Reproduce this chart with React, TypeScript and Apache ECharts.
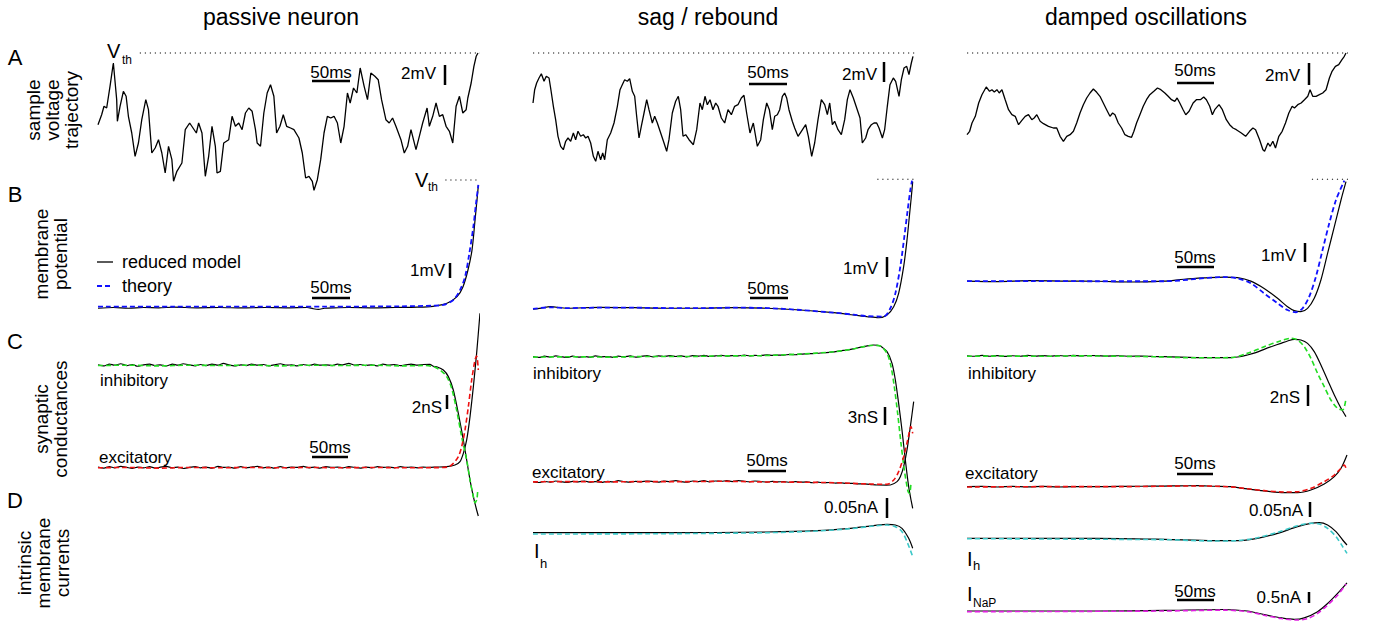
import React, { useEffect, useRef } from "react";
import * as echarts from "echarts";

// ---------------- DATA ----------------
// time in ms (0..500), voltages in mV relative to threshold, conductances in nS, currents in nA

// Row A: sample voltage trajectories
const A_passive = [[0,-7.17],[4.8,-6.17],[7.9,-5.33],[11.4,-5.5],[15.8,-3.33],[20.2,-1.0],[24.6,-4.67],[25.5,-6.83],[29.0,-5.33],[33.4,-3.83],[37.0,-4.33],[40.0,-6.33],[44.4,-8.0],[48.8,-10.33],[53.2,-9.0],[57.6,-6.67],[62.9,-4.67],[66.4,-5.67],[70.8,-10.0],[75.2,-9.5],[79.6,-8.67],[84.0,-10.0],[88.4,-12.0],[92.8,-9.33],[97.2,-10.67],[99.4,-12.83],[103.8,-11.83],[110.4,-11.0],[114.8,-7.67],[120.6,-7.0],[125.0,-7.5],[129.4,-8.0],[132.4,-7.0],[136.8,-8.0],[141.2,-12.33],[145.6,-10.33],[150.0,-7.33],[154.4,-9.33],[156.6,-12.0],[161.0,-11.83],[165.4,-9.0],[172.0,-8.67],[176.4,-6.33],[180.8,-7.33],[185.2,-7.0],[189.6,-7.67],[194.0,-6.0],[198.4,-5.5],[202.8,-5.83],[207.2,-7.67],[209.4,-9.0],[213.8,-9.33],[218.2,-6.0],[222.6,-4.0],[227.0,-3.17],[231.4,-4.33],[235.0,-8.0],[239.4,-7.33],[243.8,-6.17],[248.2,-7.33],[253.4,-7.5],[257.8,-7.67],[264.4,-8.5],[268.8,-10.0],[273.2,-12.5],[277.6,-12.33],[282.0,-12.83],[284.2,-13.73],[288.6,-12.67],[293.0,-10.67],[297.4,-8.0],[301.8,-6.33],[306.2,-6.5],[310.6,-6.33],[315.0,-7.0],[319.4,-9.0],[323.8,-7.33],[328.2,-4.0],[331.8,-5.0],[336.2,-3.5],[340.6,-4.0],[345.0,-1.5],[350.2,-3.33],[354.6,-4.67],[359.0,-2.0],[364.3,-2.33],[368.7,-2.67],[373.1,-4.67],[378.8,-6.67],[383.2,-7.0],[387.6,-6.5],[392.0,-7.33],[398.6,-8.67],[403.0,-10.0],[407.4,-9.33],[411.8,-7.67],[418.4,-9.67],[422.8,-8.33],[427.2,-7.0],[433.0,-5.5],[436.0,-7.33],[440.4,-6.33],[444.8,-5.0],[449.2,-6.33],[453.6,-6.17],[458.0,-7.33],[462.4,-7.83],[466.8,-9.0],[471.2,-5.33],[475.6,-4.33],[480.0,-6.0],[484.4,-5.67],[486.6,-4.5],[491.0,-3.0],[494.6,-1.33],[497.6,-0.33],[500,0]];

const A_sag = [[0,-5.0],[2.2,-3.67],[4.8,-3.0],[7.9,-2.5],[11.0,-2.07],[14.5,-2.83],[17.5,-2.33],[21.1,-2.5],[23.2,-3.5],[26.8,-5.33],[29.8,-6.67],[32.9,-8.33],[36.4,-9.33],[39.9,-9.67],[43.0,-8.83],[46.1,-8.5],[49.6,-8.83],[53.1,-8.0],[56.1,-8.67],[59.2,-7.83],[62.7,-8.33],[66.2,-8.17],[69.3,-8.5],[72.4,-8.33],[75.9,-9.0],[79.4,-10.33],[82.5,-10.83],[85.5,-9.83],[89.0,-10.67],[91.7,-10.0],[94.3,-10.67],[97.8,-8.67],[102.2,-8.0],[106.6,-7.0],[111.0,-5.33],[114.5,-3.67],[117.5,-3.17],[120.6,-2.67],[124.1,-2.83],[127.2,-2.57],[130.7,-3.83],[133.8,-4.33],[136.4,-6.33],[139.5,-8.5],[142.5,-7.33],[146.1,-6.0],[149.6,-4.67],[152.6,-5.67],[157.0,-7.0],[160.1,-6.33],[163.6,-7.0],[168.0,-8.0],[172.4,-9.0],[175.9,-9.83],[178.9,-8.67],[183.3,-6.0],[187.7,-4.83],[191.2,-4.33],[194.3,-5.67],[197.4,-8.33],[200.9,-8.17],[205.3,-8.67],[211.0,-9.17],[215.4,-7.67],[219.7,-5.0],[222.8,-5.67],[226.3,-4.33],[229.4,-5.17],[232.9,-4.67],[236.8,-5.67],[240.4,-5.0],[243.4,-5.33],[247.8,-6.5],[252.2,-7.0],[256.6,-5.67],[261.0,-6.17],[265.3,-5.33],[269.7,-5.17],[274.1,-4.5],[277.6,-4.23],[281.1,-6.0],[285.5,-8.0],[289.9,-7.0],[295.2,-9.33],[299.6,-8.67],[303.1,-6.67],[307.5,-5.0],[311.0,-5.67],[314.9,-7.67],[318.0,-6.33],[321.5,-6.17],[324.6,-5.67],[328.1,-4.33],[331.1,-4.0],[333.8,-4.5],[336.8,-5.67],[341.2,-6.83],[344.3,-7.5],[348.7,-8.33],[353.1,-7.83],[358.8,-7.17],[362.3,-8.33],[366.7,-10.33],[370.6,-9.0],[375.0,-6.67],[379.4,-4.67],[383.8,-5.17],[387.3,-6.17],[390.4,-5.0],[393.9,-7.17],[396.9,-6.83],[401.3,-7.67],[405.7,-8.17],[410.1,-6.67],[413.6,-4.67],[417.1,-3.67],[421.5,-4.5],[425.9,-5.5],[430.3,-6.5],[433.3,-9.0],[437.7,-8.5],[440.8,-7.67],[445.2,-7.17],[448.7,-7.0],[452.2,-7.0],[455.3,-7.5],[459.7,-8.5],[462.7,-7.67],[466.2,-5.33],[469.7,-3.17],[474.1,-2.5],[477.2,-2.83],[481.6,-4.33],[484.7,-2.67],[488.2,-1.5],[491.7,-1.33],[494.7,-2.17],[497.8,-1.0],[500,-0.33]];

const A_damped = [[0,-8.17],[3.5,-7.83],[6.6,-7.0],[11.0,-6.33],[15.4,-5.0],[19.7,-4.17],[25.4,-3.4],[29.8,-3.83],[32.9,-3.67],[36.0,-3.9],[39.5,-3.67],[42.5,-4.0],[46.1,-3.67],[50.4,-4.67],[54.8,-5.67],[59.2,-6.17],[63.6,-6.33],[68.0,-7.17],[72.4,-6.73],[76.8,-6.33],[81.1,-6.17],[85.5,-6.67],[88.6,-6.5],[92.1,-6.17],[96.5,-6.83],[100.9,-7.07],[107.5,-7.33],[114.0,-7.5],[118.4,-7.5],[122.8,-8.33],[127.2,-8.83],[131.6,-8.33],[136.0,-8.17],[140.4,-7.83],[144.7,-7.0],[149.1,-6.0],[153.5,-5.17],[157.9,-4.5],[162.3,-4.0],[166.7,-3.6],[171.1,-3.93],[175.4,-4.33],[179.8,-5.0],[184.2,-5.67],[188.6,-6.33],[192.1,-6.0],[195.2,-6.17],[199.6,-7.0],[204.0,-7.5],[208.3,-8.17],[212.7,-8.33],[217.1,-8.43],[220.2,-7.83],[223.7,-7.0],[228.1,-6.17],[232.5,-5.33],[236.8,-4.67],[241.2,-4.17],[246.5,-3.83],[251.3,-3.5],[255.7,-3.67],[261.0,-4.0],[265.4,-4.33],[269.8,-4.67],[274.1,-4.83],[277.2,-4.5],[280.7,-5.0],[285.1,-5.67],[288.6,-6.17],[293.0,-5.83],[298.3,-5.0],[302.6,-4.67],[307.9,-4.67],[312.3,-4.4],[315.8,-4.67],[320.2,-5.33],[323.7,-6.17],[326.8,-5.67],[332.5,-5.17],[336.9,-5.67],[342.1,-6.67],[346.5,-7.17],[350.9,-7.5],[355.3,-7.67],[361.9,-8.0],[367.6,-8.33],[372.8,-7.83],[377.2,-7.5],[380.7,-7.67],[386.0,-8.67],[390.4,-9.67],[392.6,-9.83],[397.0,-9.0],[400.0,-9.33],[403.5,-8.83],[407.0,-9.5],[411.4,-8.33],[415.8,-7.83],[420.2,-7.0],[424.6,-6.0],[429.0,-5.33],[432.0,-5.5],[436.4,-5.17],[440.8,-5.0],[445.2,-4.67],[449.6,-4.33],[452.6,-3.67],[456.1,-4.33],[460.5,-4.33],[464.9,-4.17],[469.3,-4.0],[473.7,-3.67],[478.1,-2.5],[481.6,-1.83],[486.0,-1.33],[490.4,-1.17],[494.7,-0.67],[497.8,-0.33],[500,0]];

// Row B: membrane potential (reduced model / theory)
const B_passive_model = [[0,-8.55],[20,-8.5],[40,-8.55],[60,-8.5],[80,-8.52],[100,-8.48],[130,-8.52],[160,-8.5],[190,-8.53],[220,-8.5],[250,-8.52],[275,-8.5],[283,-8.58],[290,-8.62],[298,-8.55],[310,-8.52],[330,-8.5],[360,-8.52],[390,-8.5],[420,-8.48],[440.8,-8.42],[459.2,-8.22],[472.4,-7.78],[480.3,-7.11],[486.8,-6.0],[492.1,-4.67],[496.1,-2.67],[499.1,-1.11],[500.5,-0.33]];
const B_passive_theory = [[0,-8.44],[100,-8.44],[200,-8.44],[300,-8.44],[400,-8.42],[440,-8.38],[454.4,-8.33],[467.5,-8.0],[476.4,-7.33],[483.0,-6.44],[488.6,-4.89],[493.9,-3.11],[497.4,-1.56],[500.5,-0.33]];
const B_sag_model = [[0,-6.72],[11,-6.66],[22.8,-6.59],[44.7,-6.67],[88.6,-6.62],[132.5,-6.64],[176.3,-6.67],[220.2,-6.67],[264,-6.64],[307.9,-6.67],[351.8,-6.76],[395.6,-6.9],[421.9,-7.02],[439.5,-7.1],[454.8,-7.16],[465.8,-7.02],[474.6,-6.59],[481.1,-5.9],[487.7,-4.52],[492.1,-3.14],[495.6,-1.76],[497.8,-0.9],[499.6,-0.12]];
const B_sag_theory = [[0,-6.7],[22.8,-6.62],[44.7,-6.66],[88.6,-6.64],[132.5,-6.64],[176.3,-6.66],[220.2,-6.66],[264,-6.64],[307.9,-6.66],[351.8,-6.76],[395.6,-6.9],[421.9,-7.0],[439.5,-7.08],[461.4,-7.1],[470.2,-6.67],[476.8,-5.9],[483.3,-4.52],[488.6,-2.97],[493,-1.59],[496.5,-0.55],[498.7,-0.07]];
const B_damped_model = [[0,-5.55],[39.6,-5.58],[83.7,-5.53],[127.7,-5.55],[171.8,-5.56],[215.8,-5.6],[259.9,-5.55],[286.3,-5.45],[312.8,-5.38],[339.2,-5.33],[356.8,-5.36],[374.4,-5.55],[392,-5.95],[409.7,-6.49],[422.9,-6.95],[431.7,-7.16],[440.5,-7.22],[449.3,-7.04],[458.1,-6.49],[466.9,-5.49],[475.7,-4.04],[484.6,-2.58],[493.4,-1.13],[500,-0.13]];
const B_damped_theory = [[0,-5.55],[83.7,-5.55],[171.8,-5.56],[259.9,-5.56],[339.2,-5.33],[356.8,-5.4],[374.4,-5.67],[392,-6.22],[409.7,-6.76],[422.9,-7.13],[433.9,-7.25],[442.7,-7.04],[451.5,-6.4],[460.3,-5.31],[469.1,-3.85],[477.9,-2.4],[486.8,-1.13],[497.8,-0.07]];

// Row C: synaptic conductances (nS)
const C_passive_inh_model = [[0,23.1],[8,22.95],[15,23.2],[22,23.05],[30,23.25],[38,23.0],[45,23.15],[52,22.9],[60,23.1],[68,23.2],[75,23.0],[82,23.1],[90,22.95],[98,23.2],[105,23.05],[112,23.25],[120,23.1],[128,22.95],[135,23.15],[142,23.0],[150,23.2],[158,23.05],[165,23.3],[172,23.1],[180,22.95],[188,23.1],[195,23.0],[202,23.2],[210,23.05],[218,23.15],[225,22.95],[232,23.1],[240,23.25],[248,23.05],[255,23.1],[262,22.95],[270,23.15],[278,23.0],[285,23.2],[292,23.05],[300,23.1],[308,23.0],[315,23.2],[322,23.1],[330,23.3],[338,23.05],[345,23.15],[352,23.0],[360,23.1],[368,22.95],[375,23.2],[382,23.05],[390,23.15],[398,23.0],[405,23.1],[412,23.2],[420,23.05],[428,23.15],[436.8,23.17],[441.2,22.9],[445.6,22.84],[454.4,22.38],[461,21.45],[467.5,19.58],[474.1,16.32],[480.7,12.59],[485.1,9.79],[489.5,6.99],[493.9,4.66],[498.2,2.8],[500.4,1.96]];
const C_passive_inh_theory = [[0,23.0],[40,23.05],[80,22.95],[120,23.05],[160,23.0],[200,23.05],[240,22.95],[280,23.05],[320,23.0],[360,23.05],[400,22.95],[430,23.0],[441.2,22.84],[450,22.38],[458.8,21.45],[465.4,19.81],[471.9,16.78],[478.5,13.05],[485.1,9.79],[489.5,6.99],[493.9,4.66],[496.1,3.82],[498.5,4.3],[499.6,5.5]];
const C_passive_exc_model = [[0,8.8],[8,8.65],[15,8.85],[22,8.7],[30,8.9],[38,8.75],[45,8.6],[52,8.8],[60,8.7],[68,8.85],[75,8.65],[82,8.8],[90,8.9],[98,8.7],[105,8.8],[112,8.6],[120,8.75],[128,8.85],[135,8.7],[142,8.8],[150,8.65],[158,8.9],[165,8.75],[172,8.8],[180,8.65],[188,8.85],[195,8.7],[202,8.8],[210,8.9],[218,8.7],[225,8.8],[232,8.65],[240,8.85],[248,8.7],[255,8.8],[262,8.75],[270,8.9],[278,8.7],[285,8.8],[292,8.65],[300,8.85],[308,8.75],[315,8.8],[322,8.7],[330,8.85],[338,8.75],[345,8.65],[352,8.8],[360,8.7],[368,8.85],[375,8.75],[382,8.8],[390,8.7],[398,8.85],[405,8.75],[412,8.8],[420,8.7],[428,8.8],[436,8.75],[445,8.8],[458.8,8.86],[469.7,9.09],[476.3,9.56],[480.7,10.72],[485.1,12.59],[489.5,15.85],[493.9,20.05],[498.2,24.71],[502.6,30.3]];
const C_passive_exc_theory = [[0,8.7],[40,8.75],[80,8.65],[120,8.75],[160,8.7],[200,8.75],[240,8.7],[280,8.75],[320,8.7],[360,8.75],[400,8.7],[440,8.72],[460,8.8],[467.5,9.32],[474.1,10.26],[478.5,11.66],[482.9,13.99],[487.3,17.25],[491.7,20.98],[496.1,23.78],[498.2,24.34],[500.4,22.38]];

const C_sag_inh_model = [[0,31.1],[8,30.95],[15,31.15],[22,31.0],[30,31.2],[38,31.05],[45,30.95],[52,31.15],[60,31.0],[68,31.1],[75,30.95],[82,31.2],[90,31.05],[98,31.1],[105,30.95],[112,31.15],[120,31.05],[128,31.2],[135,31.0],[142,31.1],[150,31.25],[158,31.05],[165,31.2],[172,31.1],[180,31.25],[188,31.1],[195,31.2],[202,31.05],[210,31.25],[218,31.15],[225,31.3],[232,31.1],[240,31.2],[248,31.3],[255,31.15],[262,31.25],[270,31.2],[278,31.35],[285,31.2],[292,31.3],[300,31.25],[308,31.4],[315,31.3],[322,31.35],[330,31.35],[338,31.45],[345,31.4],[352,31.5],[360,31.55],[368,31.6],[375,31.65],[382,31.75],[390,31.8],[396,31.9],[405,32.05],[412,32.2],[418,32.3],[425,32.5],[435,32.77],[442,32.95],[448,33.05],[457,32.88],[465.8,31.92],[472.4,29.94],[476.8,27.12],[481.1,23.16],[485.5,18.64],[489.9,13.56],[494.3,9.04],[497.4,6.78],[499.6,5.37]];
const C_sag_inh_theory = [[0,31.0],[50,31.05],[100,31.0],[150,31.1],[200,31.1],[250,31.2],[300,31.25],[350,31.5],[396,31.9],[418,32.3],[435,32.77],[448,33.0],[457,32.88],[465.8,31.64],[471.1,29.38],[475.4,25.99],[479.8,21.47],[484.2,16.38],[488.6,11.86],[493,8.47],[494.3,8.02],[495.6,7.91],[497.4,9.72]];
const C_sag_exc_model = [[0,9.9],[8,9.75],[15,9.95],[22,9.8],[30,10.0],[38,9.85],[45,9.75],[52,9.95],[60,9.85],[68,10.0],[75,9.8],[82,9.9],[90,9.75],[98,9.95],[105,9.85],[112,10.05],[120,9.9],[128,9.8],[135,9.95],[142,9.85],[150,10.0],[158,9.9],[165,9.8],[172,10.0],[180,9.9],[188,10.05],[195,9.9],[202,9.8],[210,10.0],[218,9.9],[225,10.05],[232,9.85],[240,10.0],[248,9.95],[255,10.05],[262,9.9],[270,10.05],[278,9.95],[285,9.85],[292,10.0],[300,9.9],[308,9.8],[315,9.95],[322,9.85],[330,9.9],[338,9.75],[345,9.9],[352,9.8],[360,9.85],[368,9.7],[375,9.8],[382,9.7],[390,9.75],[398,9.65],[405,9.7],[412,9.6],[420,9.6],[428,9.5],[436,9.5],[445,9.4],[452.6,9.32],[465,9.3],[470.2,9.32],[479,9.89],[483.3,10.73],[487.7,12.43],[492.1,15.25],[496.5,19.21],[500.9,23.45]];
const C_sag_exc_theory = [[0,9.85],[50,9.9],[100,9.85],[150,9.9],[200,9.9],[250,9.95],[300,9.85],[350,9.8],[400,9.7],[440,9.5],[465.8,9.44],[474.6,10.17],[481.1,11.58],[487.7,14.12],[493,16.95],[497.4,19.21],[499.6,18.08]];

const C_damped_inh_model = [[0,17.55],[10,17.5],[20,17.58],[30,17.5],[40,17.56],[50,17.48],[60,17.55],[70,17.5],[80,17.58],[90,17.52],[100,17.56],[110,17.5],[120,17.57],[130,17.52],[140,17.58],[150,17.53],[160,17.57],[171.8,17.56],[185,17.52],[200,17.55],[215,17.5],[230,17.52],[245,17.48],[259.9,17.46],[280,17.42],[303.9,17.37],[325,17.36],[348,17.37],[360,17.45],[370,17.62],[381,17.85],[392,18.16],[403,18.45],[414.1,18.73],[423,18.95],[431.7,19.11],[440.5,19.05],[449.3,18.73],[458.1,17.94],[466.9,16.67],[475.7,15.24],[484.6,13.81],[493.4,12.54],[500,11.75]];
const C_damped_inh_theory = [[0,17.5],[50,17.52],[100,17.5],[150,17.54],[200,17.5],[250,17.45],[303.9,17.35],[348,17.37],[370,17.78],[392,18.41],[414.1,18.98],[427.3,19.21],[436.1,19.05],[444.9,18.41],[453.7,17.3],[462.5,15.87],[471.3,14.6],[480.1,13.33],[488.9,12.54],[495.6,12.38],[500,13.49]];
const C_damped_exc_model = [[0,5.08],[20,5.1],[40,5.05],[60,5.1],[80,5.06],[100,5.1],[120,5.05],[140,5.08],[171.8,5.08],[200,5.1],[230,5.12],[259.9,5.14],[280,5.16],[303.9,5.17],[325,5.12],[348,5.08],[370,4.86],[392,4.67],[418.5,4.51],[436.1,4.51],[453.7,4.76],[471.3,5.33],[484.6,6.03],[493.4,6.83],[501.3,8.1]];
const C_damped_exc_theory = [[0,5.05],[100,5.08],[200,5.08],[303.9,5.15],[348,5.06],[370,4.88],[392,4.7],[418.5,4.57],[436.1,4.6],[453.7,4.92],[471.3,5.56],[484.6,6.19],[493.4,6.83],[497.8,7.14],[500,6.83]];

// Row D: intrinsic membrane currents (nA)
const D_sag_Ih_model = [[0,0.0183],[176.3,0.0183],[307.9,0.02],[373.7,0.0233],[417.5,0.0292],[448.2,0.0358],[465.8,0.0392],[476.8,0.0375],[485.5,0.0292],[494.3,0.0042],[499.6,-0.0208]];
const D_sag_Ih_theory = [[0,0.015],[176.3,0.0158],[307.9,0.0183],[373.7,0.0225],[417.5,0.0283],[448.2,0.035],[465.8,0.0375],[476.8,0.0333],[485.5,0.0208],[493,-0.0083],[499.6,-0.0417]];
const D_damped_Ih_model = [[0,-0.0444],[171.8,-0.0444],[259.9,-0.0478],[326,-0.0522],[356.8,-0.0522],[383.2,-0.0444],[409.7,-0.0278],[436.1,-0.0056],[453.7,0.0056],[464.7,0.0078],[475.7,0],[486.8,-0.0222],[495.6,-0.05],[501.3,-0.0667]];
const D_damped_Ih_theory = [[0,-0.0456],[259.9,-0.0489],[326,-0.0533],[356.8,-0.0522],[383.2,-0.0422],[409.7,-0.0244],[436.1,-0.0022],[453.7,0.0056],[464.7,0.0033],[475.7,-0.0111],[486.8,-0.0389],[495.6,-0.0722],[501.3,-0.0944]];
const D_damped_INaP_model = [[0,-1.86],[171.8,-1.86],[259.9,-1.83],[339.2,-1.79],[370,-1.86],[392,-2.02],[414.1,-2.17],[431.7,-2.24],[444.9,-2.17],[462.5,-1.89],[475.7,-1.52],[488.9,-1.06],[501.3,-0.58]];
const D_damped_INaP_theory = [[0,-1.89],[259.9,-1.86],[339.2,-1.82],[370,-1.89],[392,-2.05],[414.1,-2.2],[436.1,-2.27],[449.3,-2.2],[462.5,-1.97],[475.7,-1.59],[488.9,-1.14],[500,-0.64]];

// Threshold (V_th = 0 mV) dotted guides, time spans in ms
const VTH = 0;
const thrA_passive = [[55, VTH], [516, VTH]];
const thrA_sag = [[0, VTH], [513, VTH]];
const thrA_damped = [[0, VTH], [516, VTH]];
const thrB_passive = [[457, VTH], [516, VTH]];
const thrB_sag = [[453, VTH], [516, VTH]];
const thrB_damped = [[455, VTH], [516, VTH]];

const COLUMN_TITLES = ["passive neuron", "sag / rebound", "damped oscillations"];
const ROW_LETTERS = ["A", "B", "C", "D"];
const ROW_LABELS = ["sample\nvoltage\ntrajectory", "membrane\npotential", "synaptic\nconductances", "intrinsic\nmembrane\ncurrents"];

// ---------------- LAYOUT ----------------
const FONT = '"Liberation Sans", Arial, Helvetica, sans-serif';
const C_BLUE = "#1010ff";
const C_GREEN = "#22dd22";
const C_RED = "#ee1111";
const C_CYAN = "#3cc8c8";
const C_MAG = "#e020e0";

// each panel: grid box + y range
const PANELS = [
  { left: 98, top: 53, width: 380, height: 140, min: -14, max: 0 }, // 0 A passive
  { left: 533, top: 53, width: 380, height: 140, min: -14, max: 0 }, // 1 A sag
  { left: 967, top: 53, width: 379, height: 140, min: -14, max: 0 }, // 2 A damped
  { left: 98, top: 180, width: 380, height: 150, min: -10, max: 0 }, // 3 B passive
  { left: 533, top: 179.3, width: 380, height: 145, min: -7.5, max: 0 }, // 4 B sag
  { left: 967, top: 179.3, width: 379, height: 146.7, min: -8, max: 0 }, // 5 B damped
  { left: 98, top: 300, width: 380, height: 230, min: 0, max: 32.168 }, // 6 C passive
  { left: 533, top: 327.6, width: 380, height: 212.4, min: 0, max: 36 }, // 7 C sag
  { left: 967, top: 319.5, width: 379, height: 220.5, min: 0, max: 21 }, // 8 C damped
  { left: 533, top: 480, width: 380, height: 100, min: -0.1, max: 0.15 }, // 9 D sag Ih
  { left: 967, top: 480, width: 379, height: 90, min: -0.15, max: 0.15 }, // 10 D damped Ih
  { left: 967, top: 559.1, width: 379, height: 61.6, min: -2.3, max: 0.5 }, // 11 D damped INaP
];

function line(gi: number, data: number[][], color: string, opts: any = {}) {
  const dashed = opts.dashed;
  return {
    type: "line",
    xAxisIndex: gi,
    yAxisIndex: gi,
    data,
    symbol: "none",
    showSymbol: false,
    clip: false,
    silent: true,
    animation: false,
    smooth: opts.smooth ?? 0,
    z: opts.z ?? 2,
    lineStyle: {
      color,
      width: opts.width ?? (dashed ? 1.6 : 1.2),
      type: opts.dotted ? [1.2, 3.8] : dashed ? [5, 3] : "solid",
    },
  };
}

function txt(x: number, y: number, text: string, size: number, align = "left", extra: any = {}) {
  return {
    type: "text",
    x,
    y,
    silent: true,
    ...extra,
    style: { text, fontSize: size, fontFamily: FONT, fill: "#000", align, verticalAlign: "middle", ...(extra.style || {}) },
  };
}
function bar(x1: number, y1: number, x2: number, y2: number, w = 2.5, stroke = "#000", dash: any = null) {
  return { type: "line", silent: true, shape: { x1, y1, x2, y2 }, style: { stroke, lineWidth: w, lineDash: dash } };
}
function hBar(cx: number, textY: number, x1: number, x2: number, barY: number) {
  return [txt(cx, textY, "50ms", 17, "center"), bar(x1, barY, x2, barY)];
}
function vBar(label: string, rightX: number, textY: number, bx: number, y1: number, y2: number) {
  return [txt(rightX, textY, label, 17, "right"), bar(bx, y1, bx, y2)];
}

function buildOption() {
  const S = 0.3;
  const DOT = { dotted: true, width: 1.1 };
  const series: any[] = [
    // thresholds
    line(0, thrA_passive, "#111", DOT),
    line(1, thrA_sag, "#111", DOT),
    line(2, thrA_damped, "#111", DOT),
    line(3, thrB_passive, "#111", DOT),
    line(4, thrB_sag, "#111", DOT),
    line(5, thrB_damped, "#111", DOT),
    // A
    line(0, A_passive, "#000", { width: 1.3 }),
    line(1, A_sag, "#000", { width: 1.3 }),
    line(2, A_damped, "#000", { width: 1.3 }),
    // B
    line(3, B_passive_model, "#000", { smooth: S }),
    line(3, B_passive_theory, C_BLUE, { dashed: true, smooth: S, z: 3, width: 1.8 }),
    line(4, B_sag_model, "#000", { smooth: S }),
    line(4, B_sag_theory, C_BLUE, { dashed: true, smooth: S, z: 3, width: 1.8 }),
    line(5, B_damped_model, "#000", { smooth: S }),
    line(5, B_damped_theory, C_BLUE, { dashed: true, smooth: S, z: 3, width: 1.8 }),
    // C
    line(6, C_passive_inh_model, "#000", { smooth: 0.2 }),
    line(6, C_passive_inh_theory, C_GREEN, { dashed: true, smooth: S, z: 3 }),
    line(6, C_passive_exc_model, "#000", { smooth: 0.2 }),
    line(6, C_passive_exc_theory, C_RED, { dashed: true, smooth: S, z: 3 }),
    line(7, C_sag_inh_model, "#000", { smooth: 0.2 }),
    line(7, C_sag_inh_theory, C_GREEN, { dashed: true, smooth: S, z: 3 }),
    line(7, C_sag_exc_model, "#000", { smooth: 0.2 }),
    line(7, C_sag_exc_theory, C_RED, { dashed: true, smooth: S, z: 3 }),
    line(8, C_damped_inh_model, "#000", { smooth: S }),
    line(8, C_damped_inh_theory, C_GREEN, { dashed: true, smooth: S, z: 3 }),
    line(8, C_damped_exc_model, "#000", { smooth: S }),
    line(8, C_damped_exc_theory, C_RED, { dashed: true, smooth: S, z: 3 }),
    // D
    line(9, D_sag_Ih_model, "#000", { smooth: S }),
    line(9, D_sag_Ih_theory, C_CYAN, { dashed: true, smooth: S, z: 3 }),
    line(10, D_damped_Ih_model, "#000", { smooth: S }),
    line(10, D_damped_Ih_theory, C_CYAN, { dashed: true, smooth: S, z: 3 }),
    line(11, D_damped_INaP_model, "#000", { smooth: S }),
    line(11, D_damped_INaP_theory, C_MAG, { dashed: true, smooth: S, z: 3 }),
  ];

  const rot = (x: number, y: number, text: string) =>
    txt(x, y, text, 19, "center", { rotation: Math.PI / 2, style: { lineHeight: 19 } });

  const graphic: any[] = [
    // column titles
    txt(281, 17, COLUMN_TITLES[0], 23, "center"),
    txt(708, 17, COLUMN_TITLES[1], 23, "center"),
    txt(1146, 17, COLUMN_TITLES[2], 23, "center"),
    // row letters
    txt(15, 57, ROW_LETTERS[0], 22, "center"),
    txt(15, 194, ROW_LETTERS[1], 22, "center"),
    txt(15, 341, ROW_LETTERS[2], 22, "center"),
    txt(15, 500, ROW_LETTERS[3], 22, "center"),
    // row labels (rotated)
    rot(52, 110, ROW_LABELS[0]),
    rot(51, 254, ROW_LABELS[1]),
    rot(51, 419, ROW_LABELS[2]),
    rot(43, 563, ROW_LABELS[3]),
    // V_th labels
    txt(107, 51, "V", 20), txt(122, 60, "th", 12),
    txt(415, 180, "V", 20), txt(428, 187, "th", 12),
    // legend
    bar(97, 262, 113, 262, 1.3),
    txt(122, 262, "reduced model", 18),
    bar(97, 286, 113, 286, 1.8, C_BLUE, [5, 3]),
    txt(122, 286, "theory", 18),
    // row A scale bars
    ...hBar(331, 72, 312, 350, 81), ...vBar("2mV", 436, 73, 445, 65, 85),
    ...hBar(768, 72, 749, 787, 84), ...vBar("2mV", 877, 74, 884, 62, 82),
    ...hBar(1195, 70, 1177, 1214, 83), ...vBar("2mV", 1300, 75, 1309, 63, 85),
    // row B
    ...vBar("1mV", 445, 270, 450, 263, 278), ...hBar(331, 287, 312, 350, 298),
    ...vBar("1mV", 878, 268, 887, 257, 277), ...hBar(768, 288, 750, 788, 298),
    ...vBar("1mV", 1296, 255, 1305, 243, 262), ...hBar(1195, 257, 1177, 1214, 267),
    // row C
    txt(100, 380, "inhibitory", 17), txt(99, 457, "excitatory", 17),
    ...vBar("2nS", 442, 407, 447, 395, 409), ...hBar(330, 447, 312, 348, 457),
    txt(533, 373, "inhibitory", 17), txt(532, 472, "excitatory", 17),
    ...vBar("3nS", 878, 417, 885, 407, 425), ...hBar(767, 460, 748, 786, 471),
    ...vBar("0.05nA", 878, 507, 887, 498, 518),
    txt(968, 373, "inhibitory", 17), txt(965, 473, "excitatory", 17),
    ...vBar("2nS", 1300, 397, 1308, 385, 406), ...hBar(1195, 463, 1177, 1213, 474),
    ...vBar("0.05nA", 1303, 510, 1310, 502, 517),
    // row D
    txt(534, 551, "I", 20), txt(540, 563, "h", 13),
    txt(967, 559, "I", 20), txt(973, 565, "h", 13),
    txt(967, 594, "I", 20), txt(973, 603, "NaP", 12),
    ...hBar(1195, 591, 1177, 1214, 600), ...vBar("0.5nA", 1301, 597, 1309, 592, 603),
  ];

  return {
    animation: false,
    backgroundColor: "#fff",
    grid: PANELS.map((p) => ({
      left: p.left, top: p.top, width: p.width, height: p.height,
      show: false, containLabel: false, outerBoundsMode: "none",
    })),
    xAxis: PANELS.map((_, i) => ({ type: "value", gridIndex: i, min: 0, max: 500, show: false })),
    yAxis: PANELS.map((p, i) => ({ type: "value", gridIndex: i, min: p.min, max: p.max, show: false })),
    series,
    graphic: { elements: graphic },
  };
}

export default function App() {
  const ref = useRef<HTMLDivElement>(null);
  useEffect(() => {
    const chart = echarts.init(ref.current!, null, { renderer: "svg" });
    chart.setOption(buildOption() as any);
    return () => chart.dispose();
  }, []);
  return (
    <div
      ref={ref}
      style={{ position: "fixed", left: 0, top: 0, width: 1376, height: 621, background: "#fff" }}
    />
  );
}
